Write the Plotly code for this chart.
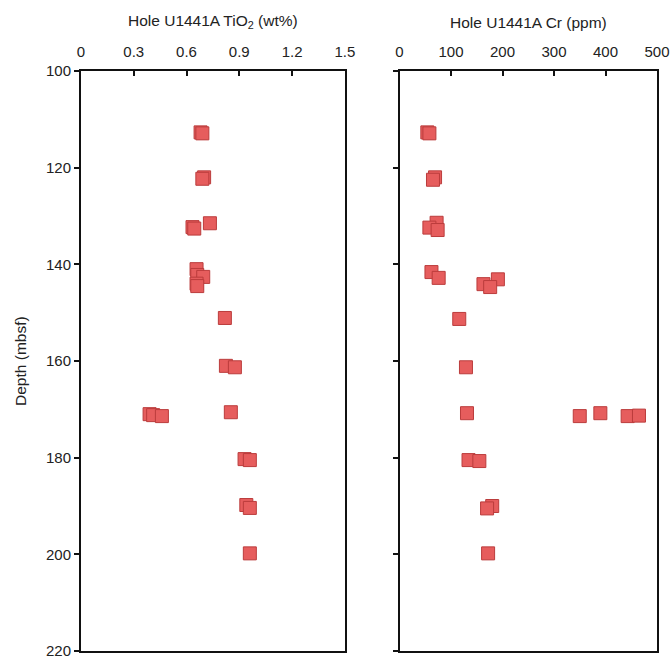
import plotly.graph_objects as go
from plotly.subplots import make_subplots

# TiO2 (wt%) data
tio2_depth = [112.7, 112.9, 122.0, 122.3, 131.5, 132.3, 132.6, 141.0, 142.2, 142.6, 144.0, 144.5,
              151.1, 161.0, 161.3, 171.0, 171.2, 171.4, 170.6, 180.3, 180.5, 189.8, 190.4, 199.8]
tio2_vals = [0.68, 0.69, 0.70, 0.69, 0.733, 0.634, 0.644, 0.657, 0.661, 0.695, 0.657, 0.661,
             0.818, 0.824, 0.875, 0.39, 0.41, 0.46, 0.852, 0.93, 0.96, 0.94, 0.96, 0.96]

# Cr (ppm) data
cr_depth = [112.7, 112.9, 122.0, 122.5, 131.4, 132.4, 132.9, 141.6, 142.8, 143.1, 144.1, 144.7,
            151.3, 161.3, 170.8, 171.4, 170.8, 171.4, 171.3, 180.5, 180.7, 190.0, 190.5, 199.8]
cr_vals = [54, 58, 69, 65, 72, 58, 74, 62, 76, 191, 163, 176,
           116, 129, 131, 350, 390, 443, 465, 134, 155, 180, 170, 172]

tio2_ticks = [0, 0.3, 0.6, 0.9, 1.2, 1.5]
cr_ticks = [0, 100, 200, 300, 400, 500]
depth_ticks = [100, 120, 140, 160, 180, 200, 220]

FONT = "Liberation Sans, Arial, sans-serif"

fig = make_subplots(rows=1, cols=2, horizontal_spacing=0.0)

marker = dict(symbol="square", size=13, color="#e65d5d",
              line=dict(color="#bb3c3c", width=1))

fig.add_trace(go.Scatter(x=tio2_vals, y=tio2_depth, mode="markers", marker=marker,
                         showlegend=False, cliponaxis=False), row=1, col=1)
fig.add_trace(go.Scatter(x=cr_vals, y=cr_depth, mode="markers", marker=marker,
                         showlegend=False, cliponaxis=False), row=1, col=2)

axis_common = dict(showline=True, linecolor="#111", linewidth=2, mirror=True,
                   showgrid=False, zeroline=False, ticklen=5, tickwidth=1.5,
                   tickcolor="#111", automargin=False, ticklabeloverflow="allow",
                   tickfont=dict(family=FONT, size=15, color="#222"))

fig.update_xaxes(**axis_common, side="top", ticks="inside", ticklabelstandoff=6)
fig.update_xaxes(domain=[0, 0.458], range=[0, 1.5], tickvals=tio2_ticks,
                 ticktext=[str(t) for t in tio2_ticks], row=1, col=1)
fig.update_xaxes(domain=[0.553, 1], range=[0, 500], tickvals=cr_ticks, row=1, col=2)

fig.update_yaxes(**axis_common, ticks="outside", range=[220, 100], tickvals=depth_ticks)
fig.update_yaxes(showticklabels=False, row=1, col=2)

fig.add_annotation(text="Depth (mbsf)", xref="paper", yref="paper", x=-0.106, y=0.5,
                   xanchor="center", yanchor="middle", textangle=-90, showarrow=False,
                   font=dict(family=FONT, size=15.5, color="#222"))
fig.add_annotation(text="Hole U1441A TiO<sub>2</sub> (wt%)", xref="paper", yref="paper",
                   x=0.229, y=1, yshift=38, xanchor="center", yanchor="bottom", showarrow=False,
                   font=dict(family=FONT, size=15.5, color="#222"))
fig.add_annotation(text="Hole U1441A Cr (ppm)", xref="paper", yref="paper",
                   x=0.7765, y=1, yshift=38, xanchor="center", yanchor="bottom", showarrow=False,
                   font=dict(family=FONT, size=15.5, color="#222"))

fig.update_layout(width=670, height=658, margin=dict(l=81, r=13, t=71, b=7),
                  plot_bgcolor="white", paper_bgcolor="white")

fig.write_html("out.html", config={"displayModeBar": False},
               post_script="document.body.style.margin='0';document.body.style.overflow='hidden';")
